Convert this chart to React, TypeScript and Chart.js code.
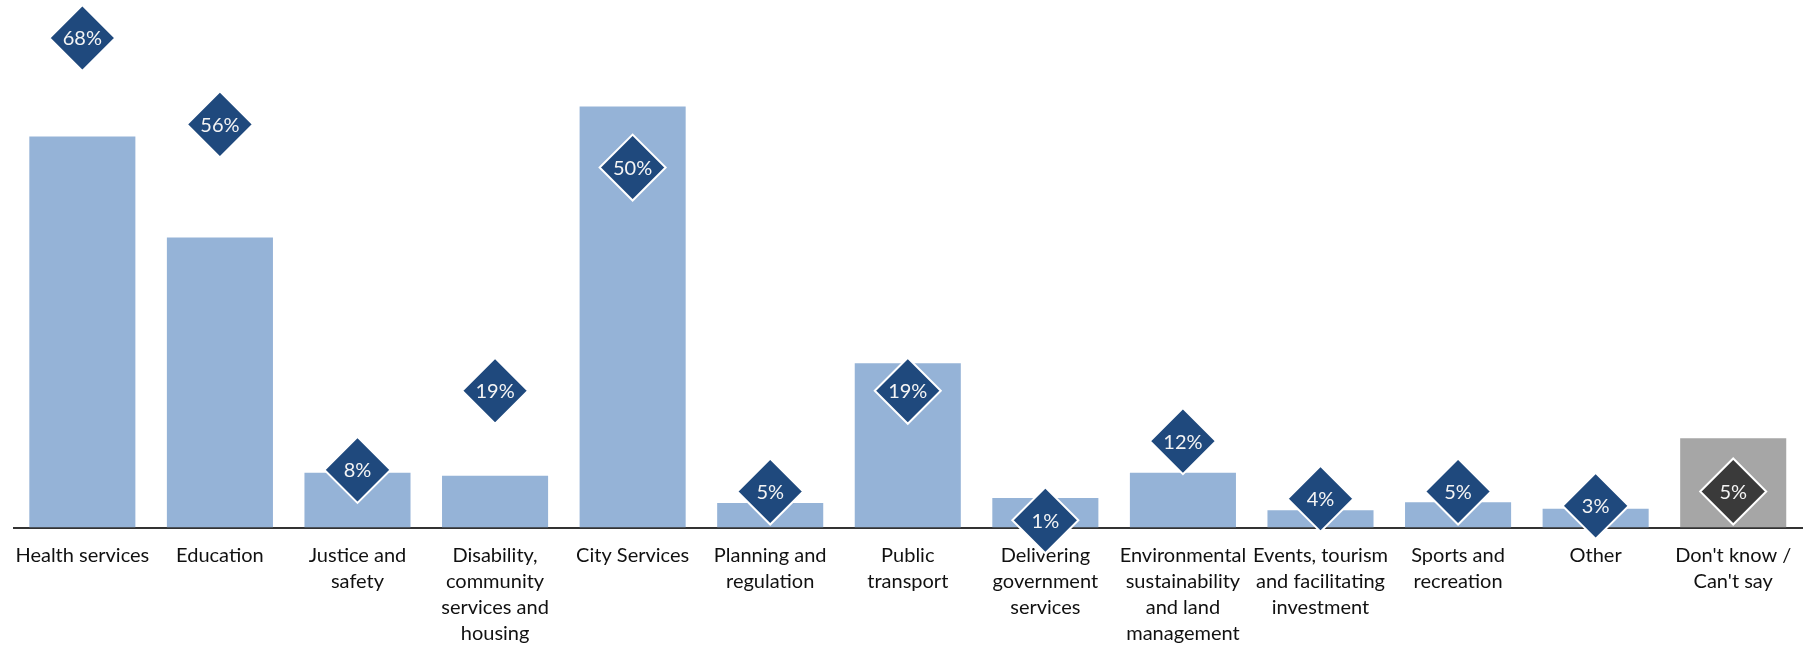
import React, { useEffect, useRef } from "react";
import { Chart, registerables } from "chart.js";

Chart.register(...registerables);

const categories: (string | string[])[] = [
  "Health services",
  "Education",
  ["Justice and", "safety"],
  ["Disability,", "community", "services and", "housing"],
  "City Services",
  ["Planning and", "regulation"],
  ["Public", "transport"],
  ["Delivering", "government", "services"],
  ["Environmental", "sustainability", "and land", "management"],
  ["Events, tourism", "and facilitating", "investment"],
  ["Sports and", "recreation"],
  "Other",
  ["Don't know /", "Can't say"],
];

const barValues = [54.3, 40.3, 7.6, 7.2, 58.5, 3.4, 22.8, 4.1, 7.6, 2.4, 3.5, 2.6, 12.4];
const diamondValues = [68, 56, 8, 19, 50, 5, 19, 1, 12, 4, 5, 3, 5];

const BAR_BLUE = "#95B3D7";
const BAR_GREY = "#A6A6A6";
const DIAMOND_BLUE = "#1F497D";
const DIAMOND_GREY = "#3A3A3A";

const diamondLabelPlugin = {
  id: "diamondLabels",
  afterDatasetsDraw(chart: any) {
    const meta = chart.getDatasetMeta(0);
    const ctx = chart.ctx;
    ctx.save();
    ctx.font = "20px Lato";
    ctx.fillStyle = "#F4F4F4";
    ctx.textAlign = "center";
    ctx.textBaseline = "middle";
    meta.data.forEach((el: any, i: number) => {
      ctx.fillText(diamondValues[i] + "%", el.x, el.y + 1);
    });
    ctx.restore();
  },
};

export default function App() {
  const canvasRef = useRef<HTMLCanvasElement | null>(null);

  useEffect(() => {
    document.body.style.margin = "0";
    const canvas = canvasRef.current;
    if (!canvas) return;
    const last = categories.length - 1;
    const chart = new Chart(canvas, {
      type: "bar",
      data: {
        labels: categories as any,
        datasets: [
          {
            type: "line",
            label: "Diamonds",
            data: diamondValues,
            showLine: false,
            pointStyle: "rectRot",
            pointRadius: 33,
            pointHoverRadius: 33,
            pointBackgroundColor: diamondValues.map((_, i) => (i === last ? DIAMOND_GREY : DIAMOND_BLUE)),
            pointBorderColor: "#FFFFFF",
            pointBorderWidth: 2,
            clip: false as any,
            order: 0,
          } as any,
          {
            type: "bar",
            label: "Bars",
            data: barValues,
            backgroundColor: barValues.map((_, i) => (i === last ? BAR_GREY : BAR_BLUE)),
            borderWidth: 0,
            categoryPercentage: 1,
            barPercentage: 0.771,
            order: 1,
          } as any,
        ],
      },
      options: {
        responsive: false,
        animation: false,
        layout: { autoPadding: false, padding: { left: 11, right: 5, top: 2, bottom: 0 } } as any,
        plugins: {
          legend: { display: false },
          tooltip: { enabled: false },
        },
        scales: {
          x: {
            offset: true,
            grid: { display: false, drawTicks: false },
            border: { display: true, color: "#333333", width: 2 },
            ticks: {
              autoSkip: false,
              maxRotation: 0,
              minRotation: 0,
              padding: 15,
              color: "#111111",
              font: { family: "Lato", size: 20, lineHeight: 1.3 },
            },
            afterFit: (scale: any) => {
              scale.height = 118.5;
            },
          },
          y: {
            display: false,
            min: 0,
            max: 73,
          },
        },
      },
      plugins: [diamondLabelPlugin],
    });
    return () => chart.destroy();
  }, []);

  return (
    <div style={{ width: 1807, height: 646 }}>
      <canvas ref={canvasRef} width={1807} height={646} />
    </div>
  );
}
